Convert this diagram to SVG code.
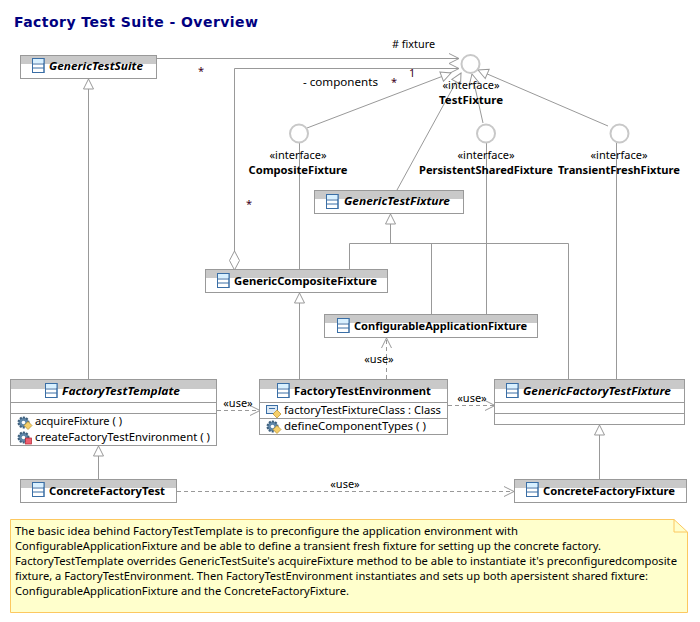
<svg xmlns="http://www.w3.org/2000/svg" xmlns:xlink="http://www.w3.org/1999/xlink" width="700" height="622" viewBox="0 0 700 622">
<style>
text{font-family:"Noto Sans","Liberation Sans",sans-serif;font-size:11px;fill:#000}
.b{font-weight:700}.i{font-style:italic}.m{text-anchor:middle}
.box{fill:#fff;stroke:#999;stroke-width:1}
.hd{fill:#c9c9c9}
.div{stroke:#999;stroke-width:1;fill:none}
.c{fill:none;stroke:#999;stroke-width:1}
.d{stroke-dasharray:4 3}
.if{fill:#fff;stroke:#c8c8c8;stroke-width:2}
.nt{font-size:11.5px}
.st{fill:#400020}
</style>
<defs>
<marker id="open" markerUnits="userSpaceOnUse" markerWidth="12" markerHeight="12" refX="10" refY="6" orient="auto"><path d="M0 1 L10 6 L0 11" fill="none" stroke="#999"/></marker>
<marker id="tri" markerUnits="userSpaceOnUse" markerWidth="12" markerHeight="12" refX="11" refY="6" orient="auto"><path d="M1 1 L11 6 L1 11Z" fill="#fff" stroke="#999"/></marker>
<marker id="dia" markerUnits="userSpaceOnUse" markerWidth="22" markerHeight="12" refX="1" refY="6" orient="auto"><path d="M1 6 L10.500 1 L20 6 L10.500 11Z" fill="#fff" stroke="#999"/></marker>
<g id="cl"><rect x="0.500" y="0.500" width="11.500" height="14" fill="#fff" stroke="#3a6ea5"/><path d="M0.500 1h11.500v4h-11.500z" fill="#d8f0ff"/><path d="M0.500 6h11.500M0.500 10h11.500" stroke="#3a6ea5"/><rect x="0.500" y="0.500" width="11.500" height="14" fill="none" stroke="#3a6ea5"/></g>
<g id="gear"><circle cx="6.500" cy="6.500" r="5" fill="#5f86a8" stroke="#3e5f7c" stroke-width="2" stroke-dasharray="2 1.200"/><circle cx="6.500" cy="6.500" r="1.800" fill="#fff"/><path d="M11 5.500 L15 9.500 L11 13.500 L7 9.500Z" fill="#f6cf6a" stroke="#b98f2a" stroke-width="0.700"/></g>
<g id="gearp"><circle cx="6.500" cy="6.500" r="5" fill="#5f86a8" stroke="#3e5f7c" stroke-width="2" stroke-dasharray="2 1.200"/><circle cx="6.500" cy="6.500" r="1.800" fill="#fff"/><rect x="8.500" y="7" width="6" height="6" fill="#ee5f6f" stroke="#b02030" stroke-width="0.700"/></g>
<g id="fld"><rect x="0.500" y="1.500" width="11" height="8" fill="#dce9f5" stroke="#3a6ea5"/><path d="M3 4.500h6" stroke="#3a6ea5"/><path d="M11 6 L15 10 L11 14 L7 10Z" fill="#f6cf6a" stroke="#b98f2a" stroke-width="0.700"/></g>
</defs>

<rect width="700" height="622" fill="#fff"/>
<text x="14" y="27" textLength="244" lengthAdjust="spacing" style="font-family:'DejaVu Sans',sans-serif;font-size:14px;font-weight:700;fill:#000080">Factory Test Suite - Overview</text>

<g id="connectors">
<path class="c" d="M157 58.500H459" marker-end="url(#open)"/>
<path class="c" d="M234.500 270V68.500H459" marker-start="url(#dia)" marker-end="url(#open)"/>
<path class="c" d="M307 128L451 73" marker-end="url(#tri)"/>
<path class="c" d="M397 190L461 73" marker-end="url(#tri)"/>
<path class="c" d="M483 123L472 74" marker-end="url(#tri)"/>
<path class="c" d="M608 126L478 70" marker-end="url(#tri)"/>
<path class="c" d="M299.500 142V269"/>
<path class="c" d="M486.500 142V314"/>
<path class="c" d="M616.500 142V379"/>
<path class="c" d="M88.500 379V79" marker-end="url(#tri)"/>
<path class="c" d="M390.500 243.500V214" marker-end="url(#tri)"/>
<path class="c" d="M349.500 269V243.500H568.500V379"/>
<path class="c" d="M431.500 243.500V314"/>
<path class="c" d="M299.500 379V293" marker-end="url(#tri)"/>
<path class="c d" d="M386.500 379V338" marker-end="url(#open)"/>
<path class="c d" d="M217 410.500H260" marker-end="url(#open)"/>
<path class="c d" d="M448 405.500H495" marker-end="url(#open)"/>
<path class="c d" d="M177 491.500H514" marker-end="url(#open)"/>
<path class="c" d="M98.500 479V446" marker-end="url(#tri)"/>
<path class="c" d="M599.500 479V425" marker-end="url(#tri)"/>
</g>

<g id="connector-labels">
<text x="392" y="48" textLength="43" lengthAdjust="spacingAndGlyphs">#  fixture</text>
<text x="198" y="75" class="st">*</text>
<text x="409" y="77" class="st">1</text>
<text x="303" y="86" textLength="75" lengthAdjust="spacingAndGlyphs">- components</text>
<text x="391" y="86" class="st">*</text>
<text x="246" y="208" class="st">*</text>
<text class="m" x="379" y="363">«use»</text>
<text class="m" x="238" y="407">«use»</text>
<text class="m" x="472" y="402">«use»</text>
<text class="m" x="345" y="488">«use»</text>
</g>

<g id="TestFixture"><circle class="if" cx="470.500" cy="64" r="9"/>
<text class="m" x="471" y="89">«interface»</text><text class="b m" x="471" y="104" textLength="64" lengthAdjust="spacingAndGlyphs">TestFixture</text></g>
<g id="CompositeFixture"><circle class="if" cx="299" cy="133.500" r="9"/>
<text class="m" x="298" y="159">«interface»</text><text class="b m" x="298" y="174" textLength="99" lengthAdjust="spacingAndGlyphs">CompositeFixture</text></g>
<g id="PersistentSharedFixture"><circle class="if" cx="486" cy="133.500" r="9"/>
<text class="m" x="486" y="159">«interface»</text><text class="b m" x="486" y="174" textLength="134" lengthAdjust="spacingAndGlyphs">PersistentSharedFixture</text></g>
<g id="TransientFreshFixture"><circle class="if" cx="619.500" cy="133.500" r="9"/>
<text class="m" x="619" y="159">«interface»</text><text class="b m" x="619" y="174" textLength="122" lengthAdjust="spacingAndGlyphs">TransientFreshFixture</text></g>

<g id="GenericTestSuite"><rect class="box" x="20.500" y="55.500" width="136" height="23"/><rect class="hd" x="21" y="56" width="135" height="8"/><use xlink:href="#cl" x="32" y="58"/>
<text class="b i" x="49" y="70" textLength="94" lengthAdjust="spacingAndGlyphs">GenericTestSuite</text></g>

<g id="GenericTestFixture"><rect class="box" x="314.500" y="190.500" width="149" height="23"/><rect class="hd" x="315" y="191" width="148" height="8"/><use xlink:href="#cl" x="326" y="194"/>
<text class="b i" x="344" y="205" textLength="106" lengthAdjust="spacingAndGlyphs">GenericTestFixture</text></g>

<g id="GenericCompositeFixture"><rect class="box" x="205.500" y="269.500" width="182" height="23"/><rect class="hd" x="206" y="270" width="181" height="8"/><use xlink:href="#cl" x="217" y="273"/>
<text class="b" x="234" y="285" textLength="143" lengthAdjust="spacingAndGlyphs">GenericCompositeFixture</text></g>

<g id="ConfigurableApplicationFixture"><rect class="box" x="324.500" y="314.500" width="213" height="23"/><rect class="hd" x="325" y="315" width="212" height="8"/><use xlink:href="#cl" x="337" y="318"/>
<text class="b" x="354" y="330" textLength="173" lengthAdjust="spacingAndGlyphs">ConfigurableApplicationFixture</text></g>

<g id="FactoryTestTemplate"><rect class="box" x="10.500" y="379.500" width="206" height="66"/><rect class="hd" x="11" y="380" width="205" height="9"/>
<path class="div" d="M10.500 402.500H216.500M10.500 413.500H216.500"/><use xlink:href="#cl" x="45" y="383"/>
<text class="b i" x="62" y="395" textLength="118" lengthAdjust="spacingAndGlyphs">FactoryTestTemplate</text>
<use xlink:href="#gear" x="17" y="416"/><text x="35" y="425" textLength="87" lengthAdjust="spacingAndGlyphs">acquireFixture ( )</text>
<use xlink:href="#gearp" x="17" y="431"/><text x="35" y="441" textLength="175" lengthAdjust="spacingAndGlyphs">createFactoryTestEnvironment ( )</text></g>

<g id="FactoryTestEnvironment"><rect class="box" x="259.500" y="379.500" width="188" height="55"/><rect class="hd" x="260" y="380" width="187" height="9"/>
<path class="div" d="M259.500 402.500H447.500M259.500 418.500H447.500"/><use xlink:href="#cl" x="277" y="383"/>
<text class="b" x="294" y="395" textLength="137" lengthAdjust="spacingAndGlyphs">FactoryTestEnvironment</text>
<use xlink:href="#fld" x="266" y="404"/><text x="284" y="414" textLength="157" lengthAdjust="spacingAndGlyphs">factoryTestFixtureClass : Class</text>
<use xlink:href="#gear" x="266" y="420"/><text x="284" y="430" textLength="142" lengthAdjust="spacingAndGlyphs">defineComponentTypes ( )</text></g>

<g id="GenericFactoryTestFixture"><rect class="box" x="494.500" y="379.500" width="190" height="45"/><rect class="hd" x="495" y="380" width="189" height="9"/>
<path class="div" d="M494.500 402.500H684.500M494.500 413.500H684.500"/><use xlink:href="#cl" x="506" y="383"/>
<text class="b i" x="523" y="395" textLength="148" lengthAdjust="spacingAndGlyphs">GenericFactoryTestFixture</text></g>

<g id="ConcreteFactoryTest"><rect class="box" x="20.500" y="479.500" width="156" height="23"/><rect class="hd" x="21" y="480" width="155" height="8"/><use xlink:href="#cl" x="32" y="482"/>
<text class="b" x="49" y="495" textLength="116" lengthAdjust="spacingAndGlyphs">ConcreteFactoryTest</text></g>

<g id="ConcreteFactoryFixture"><rect class="box" x="514.500" y="479.500" width="172" height="23"/><rect class="hd" x="515" y="480" width="171" height="8"/><use xlink:href="#cl" x="526" y="482"/>
<text class="b" x="543" y="495" textLength="132" lengthAdjust="spacingAndGlyphs">ConcreteFactoryFixture</text></g>

<g id="note"><path d="M10.500 519.500H674L687.500 532V612.500H10.500Z" fill="#ffffcc" stroke="#fcc860"/><path d="M674 519.500V532H687.500" fill="none" stroke="#fcc860"/>
<text class="nt" x="15" y="535" textLength="503" lengthAdjust="spacingAndGlyphs">The basic idea behind FactoryTestTemplate is to preconfigure the application environment with</text>
<text class="nt" x="15" y="550" textLength="586" lengthAdjust="spacingAndGlyphs">ConfigurableApplicationFixture and be able to define a transient fresh fixture for setting up the concrete factory.</text>
<text class="nt" x="15" y="565" textLength="662" lengthAdjust="spacingAndGlyphs">FactoryTestTemplate overrides GenericTestSuite's acquireFixture method to be able to instantiate it's preconfiguredcomposite</text>
<text class="nt" x="15" y="580" textLength="633" lengthAdjust="spacingAndGlyphs">fixture, a FactoryTestEnvironment. Then FactoryTestEnvironment instantiates and sets up both apersistent shared fixture:</text>
<text class="nt" x="15" y="595" textLength="334" lengthAdjust="spacingAndGlyphs">ConfigurableApplicationFixture and the ConcreteFactoryFixture.</text></g>
</svg>
